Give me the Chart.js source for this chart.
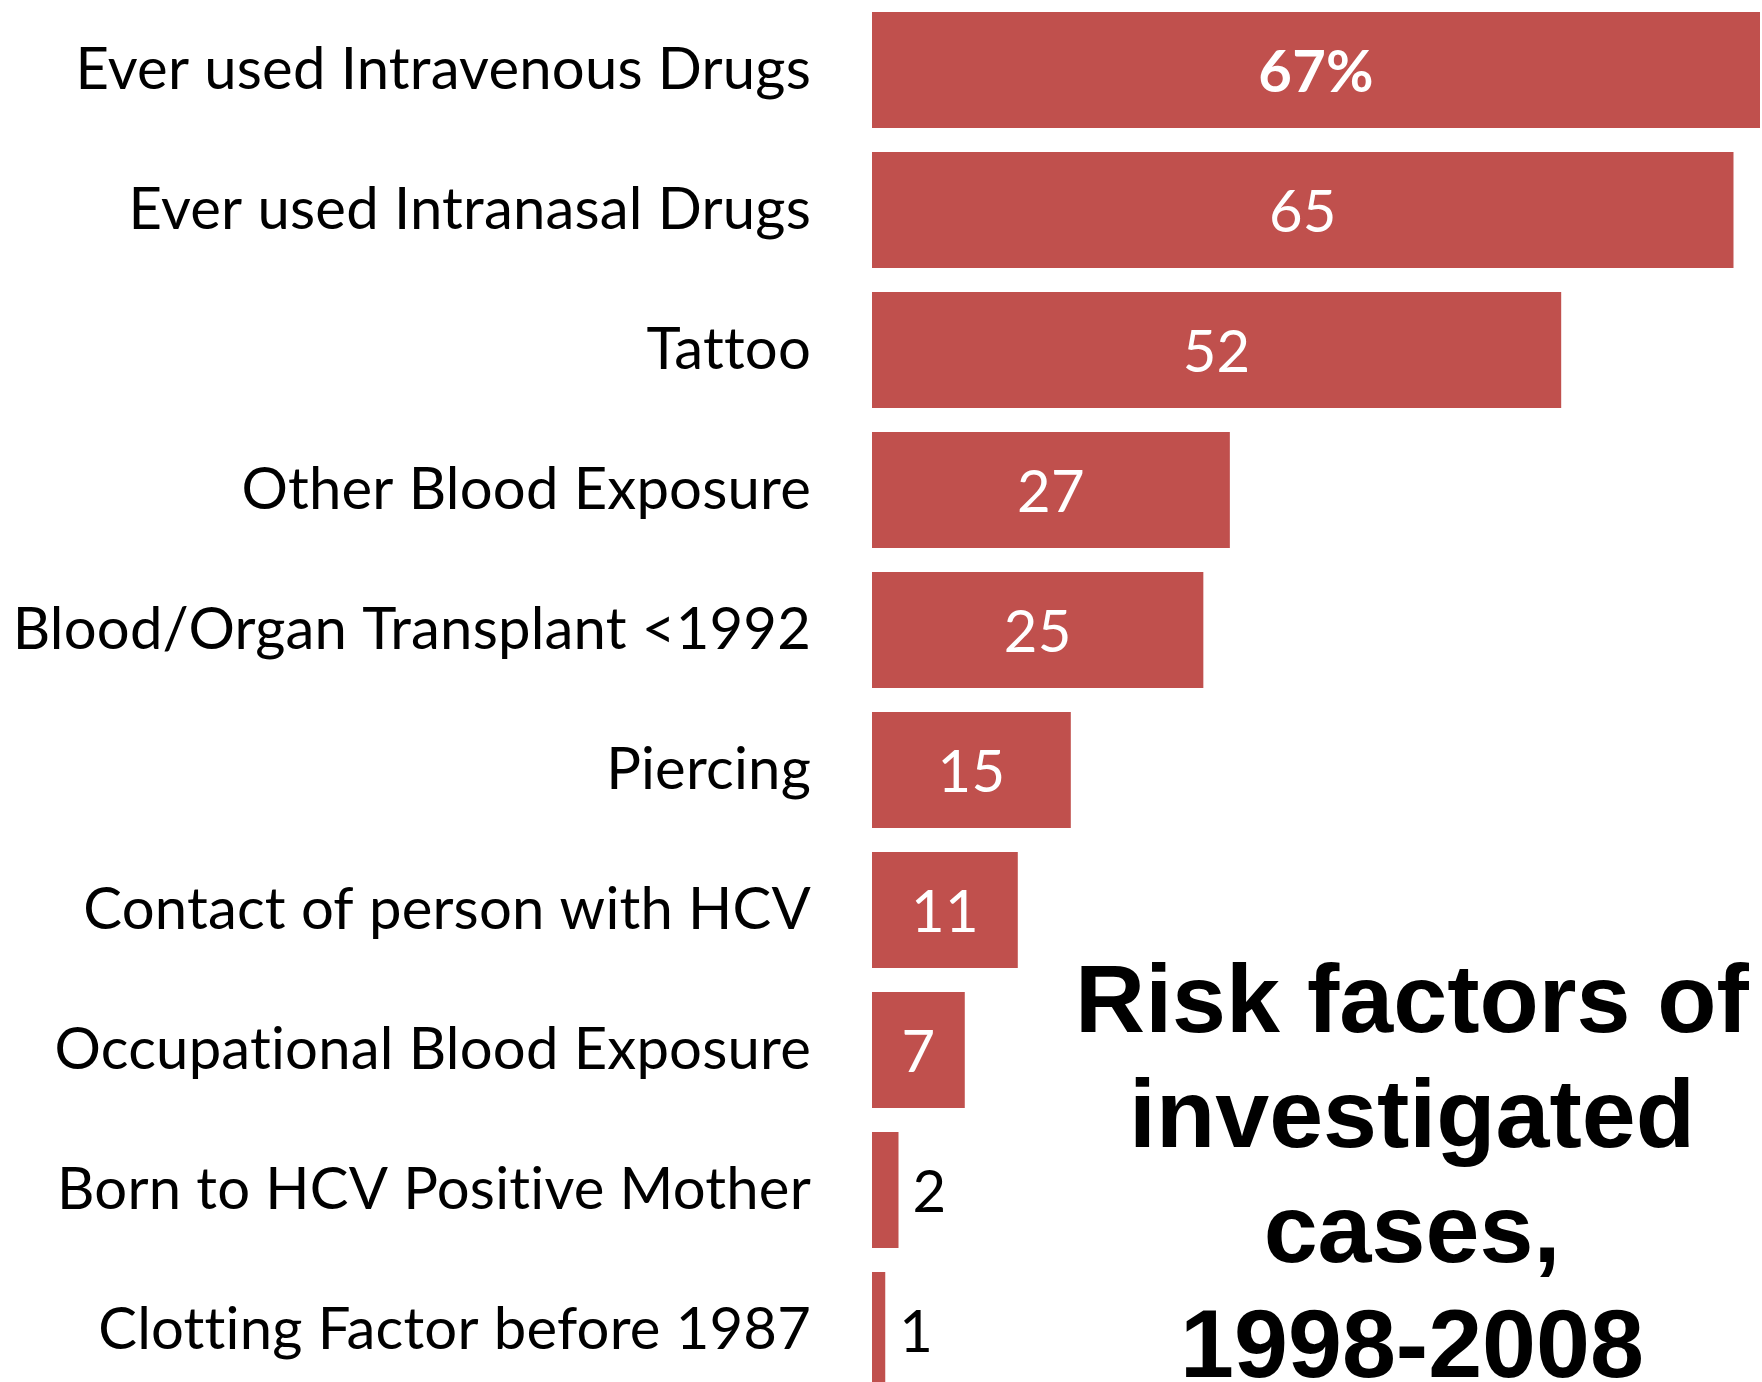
<!DOCTYPE html>
<html>
<head>
<meta charset="utf-8">
<title>Risk factors of investigated cases, 1998-2008</title>
<script src="https://cdn.jsdelivr.net/npm/chart.js@4.4.1/dist/chart.umd.min.js"></script>
<style>
    html, body { margin: 0; padding: 0; background: #fff; overflow: hidden; }
    #wrap { position: relative; width: 1762px; height: 1400px; }
</style>
</head>
<body>
<div id="wrap"><canvas id="riskChart"></canvas></div>
<script>
// Risk factors, percent of investigated cases
const riskFactors = [
    'Ever used Intravenous Drugs',
    'Ever used Intranasal Drugs',
    'Tattoo',
    'Other Blood Exposure',
    'Blood/Organ Transplant <1992',
    'Piercing',
    'Contact of person with HCV',
    'Occupational Blood Exposure',
    'Born to HCV Positive Mother',
    'Clotting Factor before 1987'
];
const percentCases = [67, 65, 52, 27, 25, 15, 11, 7, 2, 1];
const titleLines = ['Risk factors of', 'investigated', 'cases,', '1998-2008'];

const BAR_RED = '#C0504D';
const LABEL_FONT = 'Lato, "Open Sans", sans-serif';
const LABEL_SIZE = 58;

// tiny letter spacing keeps Lato from joining "tt"/"ti" into ligatures
const textSetup = {
    id: 'textSetup',
    beforeDraw(chart) {
        chart.ctx.letterSpacing = '0.2px';
    }
};

// Value labels: white inside wide bars, black just past the end of thin ones
const valueLabels = {
    id: 'valueLabels',
    afterDatasetsDraw(chart) {
        const ctx = chart.ctx;
        const meta = chart.getDatasetMeta(0);
        ctx.save();
        meta.data.forEach((bar, i) => {
            const v = percentCases[i];
            const text = i === 0 ? v + '%' : String(v);
            ctx.font = (i === 0 ? 'bold ' : '') + LABEL_SIZE + 'px ' + LABEL_FONT;
            ctx.textBaseline = 'middle';
            if (v >= 5) {
                ctx.fillStyle = '#ffffff';
                ctx.textAlign = 'center';
                ctx.fillText(text, (bar.x + bar.base) / 2, bar.y + 3);
            } else {
                ctx.fillStyle = '#000000';
                ctx.textAlign = 'left';
                ctx.fillText(text, bar.x + 14, bar.y + 3);
            }
        });
        ctx.restore();
    }
};

// Big bold caption in the empty lower-right corner
const cornerTitle = {
    id: 'cornerTitle',
    afterDraw(chart) {
        const ctx = chart.ctx;
        ctx.save();
        ctx.letterSpacing = '0px';
        ctx.font = 'bold 97px "Liberation Sans", Arial, sans-serif';
        ctx.fillStyle = '#000000';
        ctx.textAlign = 'center';
        ctx.textBaseline = 'alphabetic';
        titleLines.forEach((line, i) => {
            ctx.fillText(line, 1412, 1032 + i * 115);
        });
        ctx.restore();
    }
};

const ctx = document.getElementById('riskChart');
new Chart(ctx, {
    type: 'bar',
    data: {
        labels: riskFactors,
        datasets: [{
            data: percentCases,
            backgroundColor: BAR_RED,
            borderWidth: 0,
            barPercentage: 0.83,
            categoryPercentage: 1.0
        }]
    },
    options: {
        indexAxis: 'y',
        responsive: true,
        maintainAspectRatio: false,
        animation: false,
        layout: { padding: { left: 0, right: 2, top: 0, bottom: 0 } },
        plugins: {
            legend: { display: false },
            tooltip: { enabled: false }
        },
        scales: {
            x: {
                display: false,
                min: 0,
                max: 67
            },
            y: {
                grid: { display: false, drawTicks: false },
                border: { display: false },
                ticks: {
                    color: '#000000',
                    padding: 61,
                    font: { family: LABEL_FONT, size: LABEL_SIZE }
                },
                afterFit(scale) {
                    // fixed label column; bars fill the full height
                    scale.width = 872;
                    scale.paddingTop = 0;
                    scale.paddingBottom = 0;
                }
            }
        }
    },
    plugins: [textSetup, valueLabels, cornerTitle]
});
</script>
</body>
</html>
